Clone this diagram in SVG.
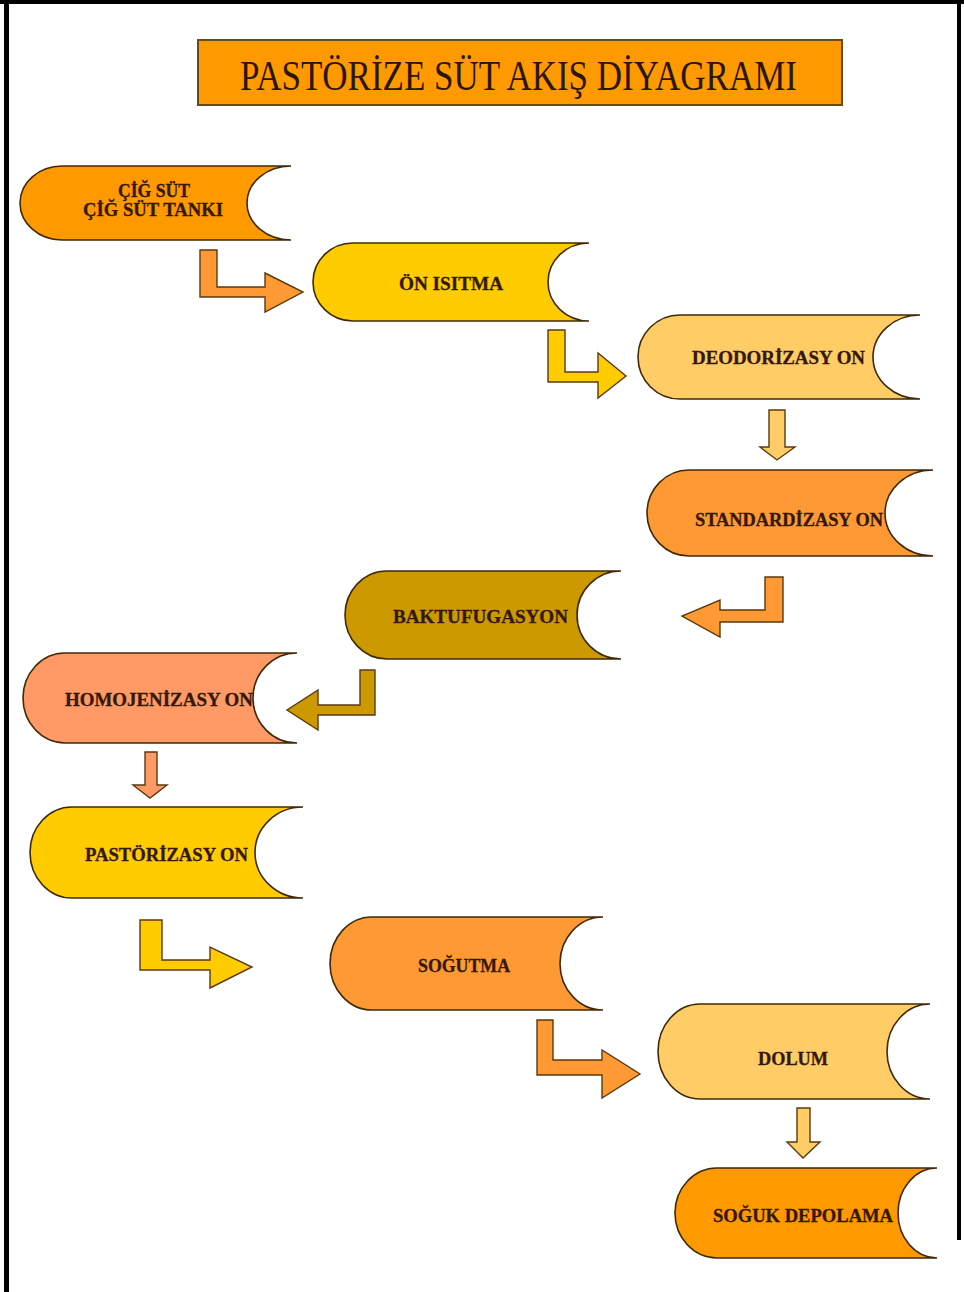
<svg xmlns="http://www.w3.org/2000/svg" width="964" height="1292" viewBox="0 0 964 1292">
<style>
.node{stroke:#3f2a08;stroke-width:1.6;}
.lbl{font-family:"Liberation Serif","DejaVu Serif",serif;font-weight:bold;fill:#34180a;font-size:18px;stroke:#34180a;stroke-width:0.3;}
.arr{stroke:#5a3a10;stroke-width:1.4;stroke-linejoin:miter;}
</style>
<rect x="0" y="0" width="964" height="1292" fill="#ffffff"/>
<g id="frame" fill="#000000">
<rect x="0" y="0" width="964" height="4"/>
<rect x="4" y="0" width="5" height="1292"/>
<rect x="957" y="0" width="4" height="1240"/>
</g>
<g id="title">
<rect x="198" y="40" width="644" height="65" fill="#FF9900" stroke="#6b4a1a" stroke-width="2"/>
<text x="240" y="90" textLength="557" lengthAdjust="spacingAndGlyphs" font-family="'Liberation Serif','DejaVu Serif',serif" font-size="42" fill="#2b1600">PASTÖRİZE SÜT AKIŞ DİYAGRAMI</text>
</g>
<g id="connectors">
<polygon class="arr" fill="#FF9933" points="200,250 217,250 217,287 265,287 265,273 303,292 265,312 265,297 200,297"/>
<polygon class="arr" fill="#FFCC00" points="548,330 565,330 565,372 598,372 598,353 626,376 598,398 598,382 548,382"/>
<polygon class="arr" fill="#FFCC66" points="769,410 785,410 785,447 795,447 777,460 760,447 769,447"/>
<polygon class="arr" fill="#FF9933" points="765,577 783,577 783,622 720,622 720,637 682,616 720,600 720,610 765,610"/>
<polygon class="arr" fill="#CC9900" points="360,670 375,670 375,715 318,715 318,730 287,710 318,690 318,705 360,705"/>
<polygon class="arr" fill="#FF9966" points="145,752 157,752 157,785 167,785 150,798 133,785 145,785"/>
<polygon class="arr" fill="#FFCC00" points="140,920 162,920 162,960 210,960 210,947 252,967 210,988 210,970 140,970"/>
<polygon class="arr" fill="#FF9933" points="537,1020 553,1020 553,1060 602,1060 602,1050 640,1074 602,1098 602,1075 537,1075"/>
<polygon class="arr" fill="#FFCC66" points="797,1108 810,1108 810,1142 820,1142 803,1158 787,1142 797,1142"/>
</g>
<g id="n1">
<path class="node" fill="#FF9900" d="M62,166 L291,166 A44 37 0 0 0 291,240 L62,240 A42 37 0 0 1 62,166 Z"/>
<text class="lbl" x="118" y="197" font-size="15" textLength="72" lengthAdjust="spacingAndGlyphs">ÇİĞ SÜT</text>
<text class="lbl" x="83" y="216" font-size="15" textLength="140" lengthAdjust="spacingAndGlyphs">ÇİĞ SÜT TANKI</text>
</g>
<g id="n2">
<path class="node" fill="#FFCC00" d="M353,243 L589,243 A41 39 0 0 0 589,321 L353,321 A40 39 0 0 1 353,243 Z"/>
<text class="lbl" x="399" y="290" textLength="104" lengthAdjust="spacingAndGlyphs">ÖN ISITMA</text>
</g>
<g id="n3">
<path class="node" fill="#FFCC66" d="M680,315 L920,315 A47 42 0 0 0 920,399 L680,399 A42 42 0 0 1 680,315 Z"/>
<text class="lbl" x="692" y="364" textLength="173" lengthAdjust="spacingAndGlyphs">DEODORİZASY ON</text>
</g>
<g id="n4">
<path class="node" fill="#FF9933" d="M689,470 L933,470 A48 43 0 0 0 933,556 L689,556 A42 43 0 0 1 689,470 Z"/>
<text class="lbl" x="695" y="526" textLength="188" lengthAdjust="spacingAndGlyphs">STANDARDİZASY ON</text>
</g>
<g id="n5">
<path class="node" fill="#CC9900" d="M387,571 L621,571 A44 44 0 0 0 621,659 L387,659 A42 44 0 0 1 387,571 Z"/>
<text class="lbl" x="393" y="623" textLength="175" lengthAdjust="spacingAndGlyphs">BAKTUFUGASYON</text>
</g>
<g id="n6">
<path class="node" fill="#FF9966" d="M65,653 L297,653 A44 45 0 0 0 297,743 L65,743 A42 45 0 0 1 65,653 Z"/>
<text class="lbl" x="65" y="706" textLength="188" lengthAdjust="spacingAndGlyphs">HOMOJENİZASY ON</text>
</g>
<g id="n7">
<path class="node" fill="#FFCC00" d="M72,807 L303,807 A48 45.5 0 0 0 303,898 L72,898 A42 45.5 0 0 1 72,807 Z"/>
<text class="lbl" x="85" y="861" textLength="163" lengthAdjust="spacingAndGlyphs">PASTÖRİZASY ON</text>
</g>
<g id="n8">
<path class="node" fill="#FF9933" d="M372,917 L603,917 A43 46.5 0 0 0 603,1010 L372,1010 A42 46.5 0 0 1 372,917 Z"/>
<text class="lbl" x="418" y="972" textLength="92" lengthAdjust="spacingAndGlyphs">SOĞUTMA</text>
</g>
<g id="n9">
<path class="node" fill="#FFCC66" d="M700,1004 L930,1004 A43 47.5 0 0 0 930,1099 L700,1099 A42 47.5 0 0 1 700,1004 Z"/>
<text class="lbl" x="758" y="1065" textLength="70" lengthAdjust="spacingAndGlyphs">DOLUM</text>
</g>
<g id="n10">
<path class="node" fill="#FF9900" d="M717,1168 L937,1168 A39 45 0 0 0 937,1258 L717,1258 A42 45 0 0 1 717,1168 Z"/>
<text class="lbl" x="713" y="1222" textLength="180" lengthAdjust="spacingAndGlyphs">SOĞUK DEPOLAMA</text>
</g>
</svg>
